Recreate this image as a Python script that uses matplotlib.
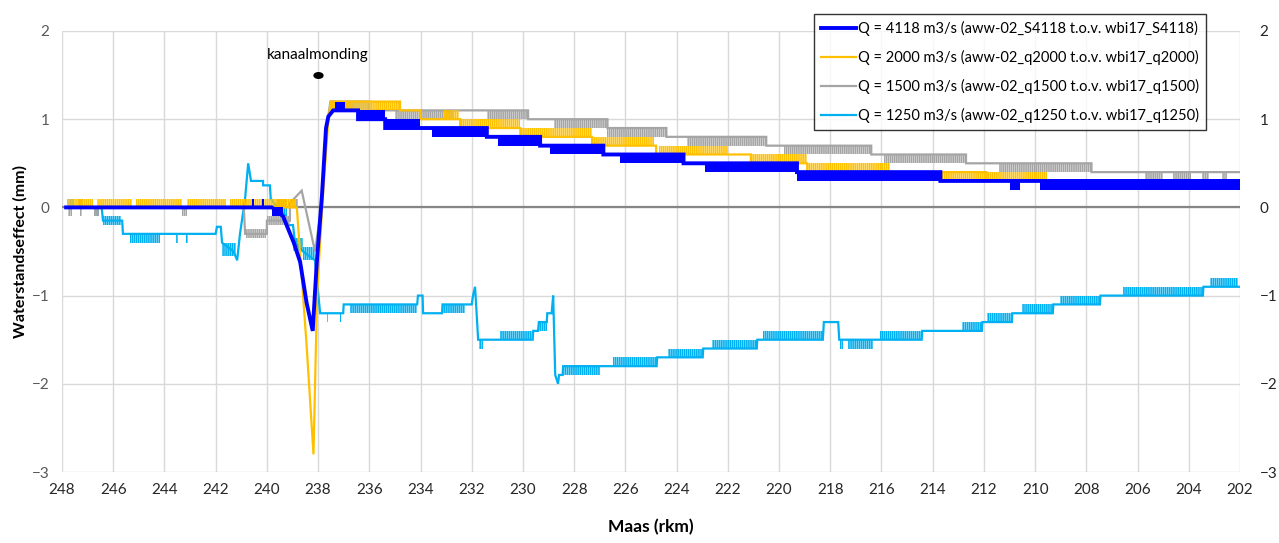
import matplotlib
matplotlib.use("Agg")
import matplotlib.pyplot as plt
from matplotlib.lines import Line2D
from matplotlib.markers import MarkerStyle
from matplotlib.transforms import Affine2D

plt.rcParams["font.family"] = ["Lato", "DejaVu Sans"]
plt.rcParams["hatch.linewidth"] = 1.2

# axis ticks
x_ticks = list(range(248, 201, -2))
y_ticks = [2, 1, 0, -1, -2, -3]

labels = [
    "Q = 4118 m3/s (aww-02_S4118 t.o.v. wbi17_S4118)",
    "Q = 2000 m3/s (aww-02_q2000 t.o.v. wbi17_q2000)",
    "Q = 1500 m3/s (aww-02_q1500 t.o.v. wbi17_q1500)",
    "Q = 1250 m3/s (aww-02_q1250 t.o.v. wbi17_q1250)",
]
colors = ["#0000FF", "#FFC000", "#A5A5A5", "#00B0F0"]
widths = [2.8, 1.6, 1.6, 1.6]

kanaal_rkm = 238.0
kanaal_y = 1.5

# Q = 4118: main line (rkm, mm) and flicker ranges (rkm from, rkm to, low, high)
q4118_x = [247.84, 239.80, 239.37, 238.95, 238.70, 238.45, 238.21, 238.05, 237.85, 237.69,
           237.60, 237.41, 236.44, 236.44, 235.38, 235.38, 231.41, 231.41, 229.33, 229.33,
           226.86, 226.86, 223.73, 223.73, 219.30, 219.30, 213.70, 213.70, 202.00]
q4118_y = [0.0, 0.0, -0.1, -0.4, -0.62, -1.08, -1.40, -0.62, 0.13, 0.90,
           1.03, 1.10, 1.10, 1.00, 1.00, 0.90, 0.90, 0.80, 0.80, 0.70,
           0.70, 0.60, 0.60, 0.50, 0.50, 0.40, 0.40, 0.30, 0.30]
q4118_bands = [
    (240.58, 240.50, 0.0, 0.1), (240.18, 240.10, 0.0, 0.1), (239.80, 239.37, -0.1, 0.0),
    (237.35, 236.95, 1.1, 1.2), (236.44, 235.40, 1.0, 1.1), (235.38, 234.02, 0.9, 1.0),
    (233.56, 231.41, 0.8, 0.9), (230.96, 229.33, 0.7, 0.8), (228.94, 226.86, 0.6, 0.7),
    (226.20, 223.73, 0.5, 0.6), (222.88, 219.30, 0.4, 0.5), (219.30, 213.70, 0.3, 0.4),
    (210.97, 210.58, 0.2, 0.3), (209.80, 202.00, 0.2, 0.3),
]

# Q = 2000
q2000_x = [247.80, 238.83, 238.44, 238.18, 238.04, 237.84, 237.60, 237.50, 234.80, 234.80,
           234.00, 234.00, 232.45, 232.45, 230.10, 230.10, 227.30, 227.30, 224.80, 224.80,
           221.10, 221.10, 218.90, 218.90, 211.90, 211.90, 202.00]
q2000_y = [0.0, 0.0, -1.6, -2.8, -1.0, 0.0, 1.0, 1.2, 1.2, 1.1,
           1.1, 1.0, 1.0, 0.9, 0.9, 0.8, 0.8, 0.7, 0.7, 0.6,
           0.6, 0.5, 0.5, 0.4, 0.4, 0.3, 0.3]
q2000_bands = [
    (247.80, 246.80, 0.0, 0.1), (246.62, 245.25, 0.0, 0.1), (245.10, 243.30, 0.0, 0.1),
    (243.10, 241.60, 0.0, 0.1), (241.45, 238.85, 0.0, 0.1),
    (237.50, 234.80, 1.1, 1.2), (233.10, 232.50, 1.0, 1.1), (232.45, 230.10, 0.9, 1.0),
    (230.10, 227.30, 0.8, 0.9), (227.30, 224.90, 0.7, 0.8), (224.70, 222.00, 0.6, 0.7),
    (221.10, 218.90, 0.5, 0.6), (218.90, 215.66, 0.4, 0.5), (213.70, 209.54, 0.3, 0.4),
]

# Q = 1500
q1500_x = [247.80, 240.90, 240.85, 240.00, 240.00, 239.10, 239.10, 238.64, 238.12, 237.88,
           237.62, 237.52, 236.00, 236.00, 229.80, 229.80, 226.70, 226.70, 224.40, 224.40,
           220.50, 220.50, 216.40, 216.40, 212.70, 212.70, 207.80, 207.80, 202.00]
q1500_y = [0.0, 0.0, -0.3, -0.3, -0.15, -0.15, 0.05, 0.19, -0.5, 0.0,
           1.0, 1.2, 1.2, 1.1, 1.1, 1.0, 1.0, 0.9, 0.9, 0.8,
           0.8, 0.7, 0.7, 0.6, 0.6, 0.5, 0.5, 0.4, 0.4]
q1500_bands = [
    (247.75, 247.60, -0.1, 0.1), (247.30, 247.20, -0.1, 0.0), (246.75, 246.55, -0.1, 0.0),
    (243.30, 243.10, -0.1, 0.0), (240.80, 240.05, -0.35, -0.25), (240.00, 239.10, -0.2, -0.1),
    (239.10, 238.80, 0.0, 0.1), (237.52, 236.00, 1.1, 1.2), (235.00, 232.70, 1.0, 1.1),
    (231.40, 229.80, 1.0, 1.1), (228.80, 226.70, 0.9, 1.0), (226.70, 224.40, 0.8, 0.9),
    (223.60, 220.50, 0.7, 0.8), (219.80, 216.40, 0.6, 0.7), (215.90, 212.70, 0.5, 0.6),
    (211.40, 207.80, 0.4, 0.5), (205.70, 205.00, 0.3, 0.4), (204.60, 203.90, 0.3, 0.4),
    (203.50, 203.20, 0.3, 0.4), (202.70, 202.50, 0.3, 0.4),
]

# Q = 1250
q1250_x = [247.80, 246.45, 246.40, 245.65, 245.62, 242.00, 241.95, 241.80, 241.75, 241.30,
           241.16, 241.05, 240.85, 240.73, 240.62, 240.15, 240.15, 239.88, 239.85, 239.60,
           239.25, 239.21, 238.98, 238.90, 238.59, 238.12, 237.92, 237.02, 237.00, 234.13,
           234.10, 233.92, 233.90, 233.16, 233.14, 232.00, 231.95, 231.87, 231.75, 229.62,
           229.60, 229.41, 229.38, 229.07, 229.05, 228.88, 228.82, 228.74, 228.63, 228.59,
           228.45, 228.43, 224.78, 224.76, 222.98, 222.96, 220.87, 220.85, 218.29, 218.25,
           217.69, 217.65, 214.43, 214.41, 212.08, 212.06, 210.91, 210.89, 209.31, 209.29,
           207.47, 207.45, 203.45, 203.43, 202.00]
q1250_y = [0.0, 0.0, -0.15, -0.15, -0.3, -0.3, -0.22, -0.22, -0.4, -0.5,
           -0.6, -0.3, 0.1, 0.5, 0.3, 0.3, 0.25, 0.25, 0.1, 0.0,
           -0.1, -0.2, -0.2, -0.4, -0.5, -0.6, -1.2, -1.2, -1.1, -1.1,
           -1.0, -1.0, -1.2, -1.2, -1.1, -1.1, -1.0, -0.9, -1.5, -1.5,
           -1.4, -1.4, -1.3, -1.3, -1.2, -1.2, -1.0, -1.9, -2.0, -1.9,
           -1.9, -1.8, -1.8, -1.7, -1.7, -1.6, -1.6, -1.5, -1.5, -1.3,
           -1.3, -1.5, -1.5, -1.4, -1.4, -1.3, -1.3, -1.2, -1.2, -1.1,
           -1.1, -1.0, -1.0, -0.9, -0.9]
q1250_bands = [
    (247.70, 247.55, 0.0, 0.1), (247.35, 247.20, 0.0, 0.1), (246.75, 246.55, -0.1, 0.0),
    (246.40, 245.70, -0.2, -0.1), (245.34, 244.17, -0.4, -0.3), (243.55, 243.47, -0.4, -0.3),
    (243.16, 243.08, -0.4, -0.3), (241.75, 241.20, -0.55, -0.4), (239.60, 239.21, -0.1, 0.1),
    (238.98, 238.59, -0.5, -0.35), (238.59, 238.12, -0.6, -0.45), (237.67, 237.62, -1.3, -1.2),
    (237.16, 237.11, -1.3, -1.2), (236.75, 234.13, -1.2, -1.1), (233.16, 232.26, -1.2, -1.1),
    (231.70, 231.55, -1.6, -1.5), (230.89, 229.64, -1.5, -1.4), (229.41, 229.05, -1.4, -1.3),
    (228.43, 226.98, -1.9, -1.8), (226.48, 224.76, -1.8, -1.7), (224.33, 222.96, -1.7, -1.6),
    (222.61, 220.85, -1.6, -1.5), (220.62, 218.27, -1.5, -1.4), (217.61, 217.50, -1.6, -1.5),
    (217.30, 216.32, -1.6, -1.5), (216.05, 214.41, -1.5, -1.4), (212.84, 212.06, -1.4, -1.3),
    (211.87, 210.89, -1.3, -1.2), (210.50, 209.29, -1.2, -1.1), (209.02, 207.45, -1.1, -1.0),
    (206.55, 203.43, -1.0, -0.9), (203.16, 202.06, -0.9, -0.8),
]

series = [
    (q4118_x, q4118_y, q4118_bands),
    (q2000_x, q2000_y, q2000_bands),
    (q1500_x, q1500_y, q1500_bands),
    (q1250_x, q1250_y, q1250_bands),
]
zorders = [7, 6, 5, 4]
hatches = ["|" * 10, "|" * 8, "|" * 8, "|" * 8]

fig = plt.figure(figsize=(12.79, 5.43), dpi=100)
ax = fig.add_axes([62 / 1279, 1 - 472 / 543, (1240 - 62) / 1279, (472 - 31) / 543])

for (xs, ys, bands), c, lw, z, h in zip(series, colors, widths, zorders, hatches):
    ax.plot(xs, ys, color=c, lw=lw, zorder=z, solid_joinstyle="miter")
    for x0, x1, lo, hi in bands:
        # flicker between two levels: dense vertical comb
        ax.fill_between([x0, x1], [lo, lo], [hi, hi], facecolor="none",
                        edgecolor=c, hatch=h, lw=0, zorder=z)

ax.axhline(0, color="#868686", lw=1.6, zorder=3)

# kanaalmonding marker
dot = MarkerStyle("o", transform=Affine2D().scale(1.6, 1.0))
ax.plot([kanaal_rkm], [kanaal_y], marker=dot, ms=4, color="black", zorder=8)
ax.text(kanaal_rkm, kanaal_y + 0.23, "kanaalmonding", ha="center", va="center",
        fontsize=11, color="black")

ax.set_xlim(248, 202)
ax.set_ylim(-3, 2)
ax.set_xticks(x_ticks)
ax.set_yticks(y_ticks)
ax.grid(True, color="#d9d9d9", lw=1)
ax.set_axisbelow(True)
for s in ax.spines.values():
    s.set_visible(False)
ax.tick_params(axis="both", length=0)
ax.tick_params(axis="x", labelsize=11, labelcolor="#262626", pad=8)
ax.tick_params(axis="y", labelsize=11, labelcolor="#595959", pad=9)

ax2 = ax.twinx()
ax2.set_ylim(-3, 2)
ax2.set_yticks(y_ticks)
for s in ax2.spines.values():
    s.set_visible(False)
ax2.tick_params(axis="y", length=0, labelsize=11, labelcolor="#262626", pad=14)

ax.set_xlabel("Maas (rkm)", fontsize=12.5, fontweight="bold", labelpad=16)
ax.set_ylabel("Waterstandseffect (mm)", fontsize=11.5, fontweight="bold", labelpad=3)

handles = [Line2D([0], [0], color=c, lw=lw) for c, lw in zip(colors, widths)]
leg = fig.legend(handles, labels, loc="upper right",
                 bbox_to_anchor=(1206 / 1279, 1 - 14 / 543), bbox_transform=fig.transFigure,
                 fontsize=10.5, frameon=True, fancybox=False, edgecolor="black",
                 handlelength=2.4, handletextpad=0.1, labelspacing=0.95,
                 borderpad=0.5, borderaxespad=0)
leg.get_frame().set_linewidth(1.0)
leg.set_zorder(10)

fig.savefig("out.png", dpi=100)
